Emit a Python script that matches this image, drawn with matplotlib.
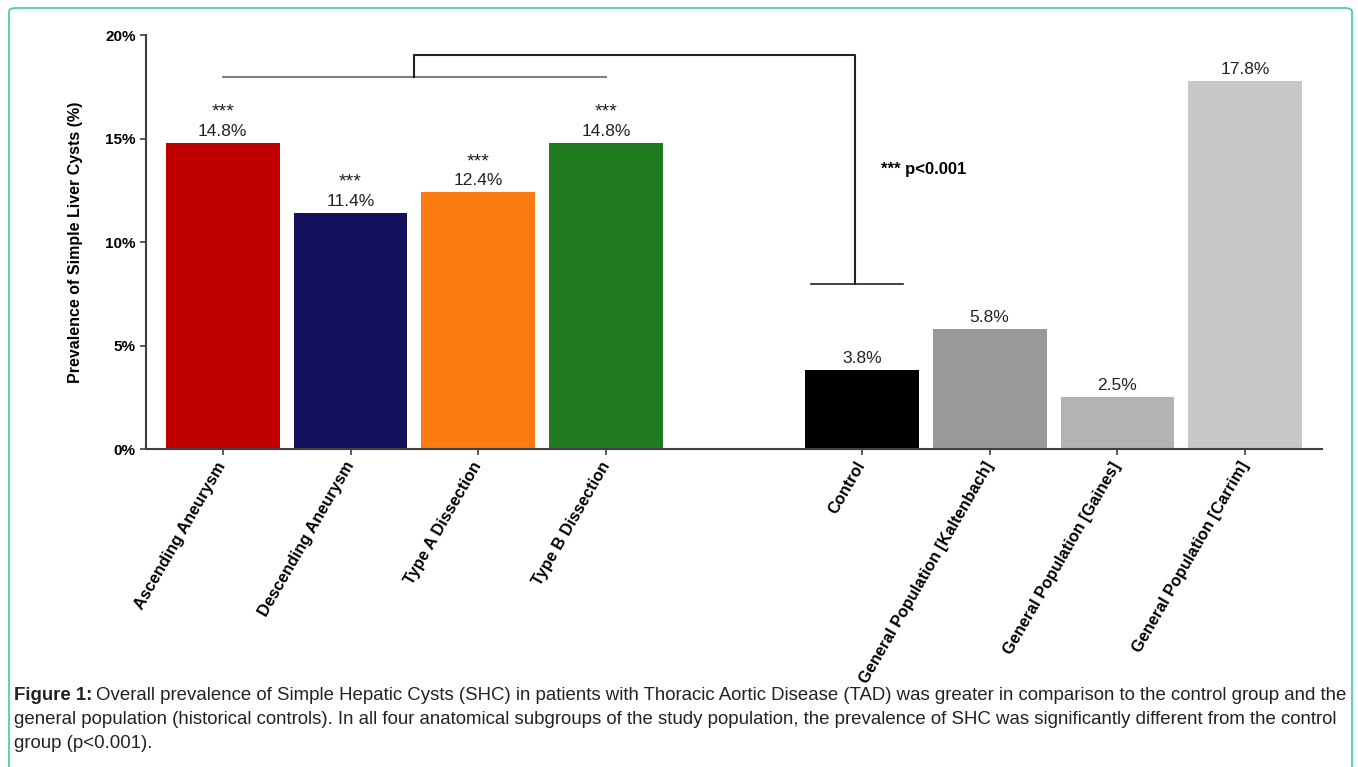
import matplotlib
matplotlib.use('Agg')
import matplotlib.pyplot as plt
from matplotlib.patches import FancyBboxPatch

plt.rcParams['font.family'] = ['Liberation Sans', 'DejaVu Sans']

groups = ['Ascending Aneurysm', 'Descending Aneurysm', 'Type A Dissection', 'Type B Dissection',
          'Control', 'General Population [Kaltenbach]', 'General Population [Gaines]',
          'General Population [Carrim]']
positions = [0, 1, 2, 3, 5, 6, 7, 8]
prevalence = [14.8, 11.4, 12.4, 14.8, 3.8, 5.8, 2.5, 17.8]
stars = ['***', '***', '***', '***', '', '', '', '']
colors = ['#c00000', '#15105c', '#fb7a12', '#207a1f', '#000000', '#999999', '#b3b3b3', '#c8c8c8']
yticks = [0, 5, 10, 15, 20]

caption = [
    'Overall prevalence of Simple Hepatic Cysts (SHC) in patients with Thoracic Aortic Disease (TAD) was greater in comparison to the control group and the',
    'general population (historical controls). In all four anatomical subgroups of the study population, the prevalence of SHC was significantly different from the control',
    'group (p<0.001).',
]

fig = plt.figure(figsize=(13.58, 7.67), dpi=100)
ax = fig.add_axes([0.1075, 0.4146, 0.866, 0.5394])

ax.bar(positions, prevalence, width=0.89, color=colors)
for x, v, s in zip(positions, prevalence, stars):
    ax.annotate(f'{v}%', (x, v), xytext=(0, 3), textcoords='offset points',
                ha='center', va='bottom', fontsize=12.5, color='#222222')
    if s:
        ax.annotate(s, (x, v), xytext=(0, 16), textcoords='offset points',
                    ha='center', va='bottom', fontsize=14, color='#222222')

# significance brackets
ax.plot([0, 3], [18, 18], color='#7f7f7f', lw=1.5)
ax.plot([1.5, 1.5, 4.95, 4.95], [18, 19.05, 19.05, 8], color='#222222', lw=1.5)
ax.plot([4.6, 5.32], [8, 8], color='#222222', lw=1.2)
ax.text(5.15, 13.5, '*** p<0.001', fontsize=12, fontweight='bold', ha='left', va='center')

ax.set_xlim(-0.6, 8.6)
ax.set_ylim(0, 20)
ax.set_yticks(yticks)
ax.set_yticklabels([f'{t}%' for t in yticks], fontsize=11, fontweight='bold')
ax.set_xticks(positions)
ax.set_xticklabels(groups, rotation=60, ha='right', va='center', rotation_mode='anchor',
                   fontsize=11.8, fontweight='bold')
ax.tick_params(axis='x', length=4, width=1.2, color='#404040', pad=6)
ax.tick_params(axis='y', length=4, width=1.2, color='#404040')
for side in ['top', 'right']:
    ax.spines[side].set_visible(False)
for side in ['left', 'bottom']:
    ax.spines[side].set_color('#404040')
    ax.spines[side].set_linewidth(1.5)
ax.set_ylabel('Prevalence of Simple Liver Cysts (%)', fontsize=11.5, fontweight='bold', labelpad=16)

# border
border = FancyBboxPatch((9 / 1358, -0.05), 1343 / 1358, 1.05 - 8 / 767,
                        boxstyle='round,pad=0,rounding_size=0.005', transform=fig.transFigure,
                        fill=False, edgecolor='#3cc8b0', lw=1.2)
fig.patches.append(border)

# caption
fig.canvas.draw()
r = fig.canvas.get_renderer()
lead = fig.text(14 / 1358, 1 - 696 / 767, 'Figure 1:', fontsize=13.4, fontweight='bold',
                va='center', color='#222222')
w = lead.get_window_extent(r).width
fig.text((14 + w + 4) / 1358, 1 - 696 / 767, caption[0], fontsize=13.4,
         va='center', color='#222222')
for i, line in enumerate(caption[1:]):
    fig.text(14 / 1358, 1 - (720 + 23.5 * i) / 767, line, fontsize=13.4,
             va='center', color='#222222')

fig.savefig('out.png', dpi=100)
